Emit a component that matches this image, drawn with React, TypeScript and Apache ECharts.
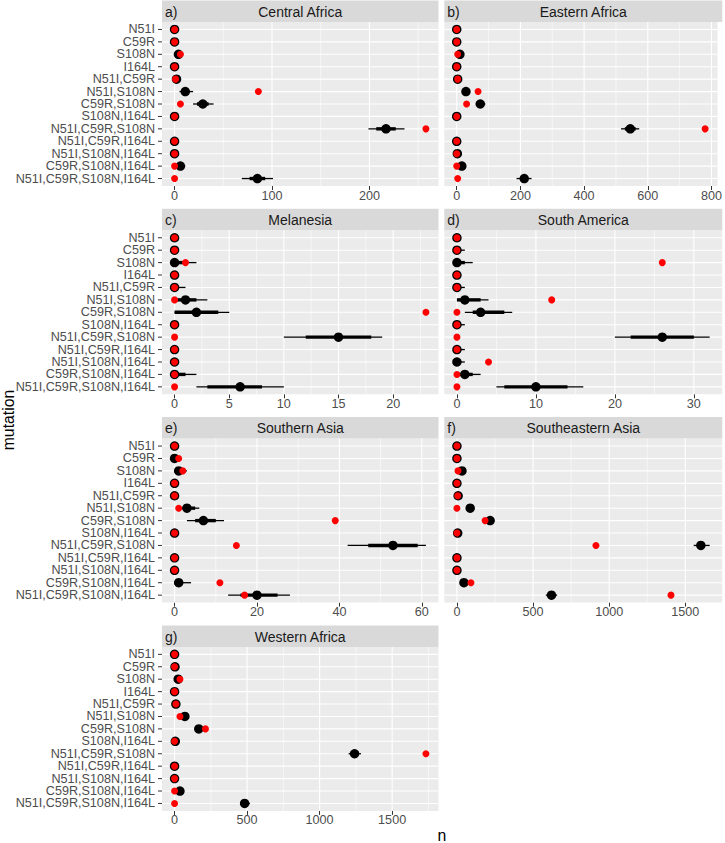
import React, { useEffect, useRef } from "react";
import * as echarts from "echarts";

const categories = [
  "N51I", "C59R", "S108N", "I164L", "N51I,C59R", "N51I,S108N", "C59R,S108N",
  "S108N,I164L", "N51I,C59R,S108N", "N51I,C59R,I164L", "N51I,S108N,I164L",
  "C59R,S108N,I164L", "N51I,C59R,S108N,I164L",
];

const panelTags = ["a)", "b)", "c)", "d)", "e)", "f)", "g)"];
const panelTitles = ["Central Africa", "Eastern Africa", "Melanesia", "South America", "Southern Asia", "Southeastern Asia", "Western Africa"];

// a) Central Africa
const centralAfricaMedian = [0, 0, 4, 0, 2, 11, 29, 0, 217, 0, 0, 6, 85];
const centralAfricaLo95 = [0, 0, 1, 0, 0, 5, 19, 0, 199, 0, 0, 2, 69];
const centralAfricaHi95 = [1, 1, 8, 1, 4, 19, 40, 1, 236, 1, 1, 11, 101];
const centralAfricaLo66 = [0, 0, 2, 0, 1, 8, 23, 0, 207, 0, 0, 4, 77];
const centralAfricaHi66 = [0, 0, 6, 0, 3, 15, 35, 0, 227, 0, 0, 8, 93];
const centralAfricaObserved = [0, 0, 6, 0, 1, 86, 6, 0, 258, 0, 0, 0, 0];
const centralAfricaTicks = [0, 100, 200];
const centralAfricaMinor = [50, 150, 250];

// b) Eastern Africa
const easternAfricaMedian = [0, 0, 10, 0, 3, 29, 74, 0, 545, 0, 2, 16, 212];
const easternAfricaLo95 = [0, 0, 3, 0, 0, 18, 60, 0, 516, 0, 0, 8, 188];
const easternAfricaHi95 = [1, 1, 18, 1, 7, 40, 90, 1, 573, 1, 4, 26, 235];
const easternAfricaLo66 = [0, 0, 6, 0, 1, 24, 67, 0, 528, 0, 1, 12, 200];
const easternAfricaHi66 = [0, 0, 14, 0, 5, 34, 81, 0, 562, 0, 3, 20, 224];
const easternAfricaObserved = [0, 0, 3, 0, 3, 67, 31, 0, 780, 0, 0, 0, 3];
const easternAfricaTicks = [0, 200, 400, 600, 800];
const easternAfricaMinor = [100, 300, 500, 700];

// c) Melanesia
const melanesiaMedian = [0, 0, 0, 0, 0, 1, 2, 0, 15, 0, 0, 0, 6];
const melanesiaLo95 = [0, 0, 0, 0, 0, 0, 0, 0, 10, 0, 0, 0, 2];
const melanesiaHi95 = [0, 0, 2, 0, 1, 3, 5, 0, 19, 0, 0, 2, 10];
const melanesiaLo66 = [0, 0, 0, 0, 0, 0, 0, 0, 12, 0, 0, 0, 3];
const melanesiaHi66 = [0, 0, 1, 0, 0, 2, 4, 0, 18, 0, 0, 1, 8];
const melanesiaObserved = [0, 0, 1, 0, 0, 0, 23, 0, 0, 0, 0, 0, 0];
const melanesiaTicks = [0, 5, 10, 15, 20];
const melanesiaMinor = [2.5, 7.5, 12.5, 17.5, 22.5];

// d) South America
const southAmericaMedian = [0, 0, 0, 0, 0, 1, 3, 0, 26, 0, 0, 1, 10];
const southAmericaLo95 = [0, 0, 0, 0, 0, 0, 1, 0, 20, 0, 0, 0, 5];
const southAmericaHi95 = [0, 1, 2, 0, 1, 4, 7, 1, 32, 1, 1, 3, 16];
const southAmericaLo66 = [0, 0, 0, 0, 0, 0, 2, 0, 22, 0, 0, 0, 6];
const southAmericaHi66 = [0, 0, 1, 0, 0, 3, 6, 0, 30, 0, 0, 2, 14];
const southAmericaObserved = [0, 0, 26, 0, 0, 12, 0, 0, 0, 0, 4, 0, 0];
const southAmericaTicks = [0, 10, 20, 30];
const southAmericaMinor = [5, 15, 25];

// e) Southern Asia
const southernAsiaMedian = [0, 0, 1, 0, 0, 3, 7, 0, 53, 0, 0, 1, 20];
const southernAsiaLo95 = [0, 0, 0, 0, 0, 1, 3, 0, 42, 0, 0, 0, 13];
const southernAsiaHi95 = [0, 1, 3, 0, 0, 6, 12, 0, 61, 0, 0, 4, 28];
const southernAsiaLo66 = [0, 0, 0, 0, 0, 2, 5, 0, 47, 0, 0, 0, 16];
const southernAsiaHi66 = [0, 0, 2, 0, 0, 5, 10, 0, 59, 0, 0, 2, 25];
const southernAsiaObserved = [0, 1, 2, 0, 0, 1, 39, 0, 15, 0, 0, 11, 17];
const southernAsiaTicks = [0, 20, 40, 60];
const southernAsiaMinor = [10, 30, 50];

// f) Southeastern Asia
const southeasternAsiaMedian = [0, 0, 33, 0, 8, 87, 218, 5, 1602, 0, 0, 46, 621];
const southeasternAsiaLo95 = [0, 0, 15, 0, 0, 65, 190, 0, 1555, 0, 0, 28, 584];
const southeasternAsiaHi95 = [3, 3, 50, 3, 18, 110, 245, 12, 1660, 3, 3, 65, 658];
const southeasternAsiaLo66 = [0, 0, 25, 0, 3, 76, 205, 2, 1580, 0, 0, 37, 602];
const southeasternAsiaHi66 = [1, 1, 42, 1, 13, 98, 232, 8, 1628, 1, 1, 56, 640];
const southeasternAsiaObserved = [0, 0, 7, 0, 5, 0, 185, 0, 913, 0, 0, 92, 1406];
const southeasternAsiaTicks = [0, 500, 1000, 1500];
const southeasternAsiaMinor = [250, 750, 1250];

// g) Western Africa
const westernAfricaMedian = [0, 3, 25, 0, 9, 71, 167, 5, 1241, 0, 0, 37, 483];
const westernAfricaLo95 = [0, 0, 10, 0, 0, 50, 140, 0, 1200, 0, 0, 20, 451];
const westernAfricaHi95 = [3, 8, 40, 3, 20, 95, 195, 12, 1285, 3, 3, 55, 520];
const westernAfricaLo66 = [0, 1, 18, 0, 4, 60, 153, 2, 1220, 0, 0, 28, 467];
const westernAfricaHi66 = [1, 5, 32, 1, 14, 83, 180, 8, 1263, 1, 1, 46, 502];
const westernAfricaObserved = [0, 0, 37, 0, 9, 37, 213, 0, 1733, 0, 0, 0, 0];
const westernAfricaTicks = [0, 500, 1000, 1500];
const westernAfricaMinor = [250, 750, 1250, 1750];

const panels = [
  { median: centralAfricaMedian, lo95: centralAfricaLo95, hi95: centralAfricaHi95, lo66: centralAfricaLo66, hi66: centralAfricaHi66, obs: centralAfricaObserved, ticks: centralAfricaTicks, minor: centralAfricaMinor },
  { median: easternAfricaMedian, lo95: easternAfricaLo95, hi95: easternAfricaHi95, lo66: easternAfricaLo66, hi66: easternAfricaHi66, obs: easternAfricaObserved, ticks: easternAfricaTicks, minor: easternAfricaMinor },
  { median: melanesiaMedian, lo95: melanesiaLo95, hi95: melanesiaHi95, lo66: melanesiaLo66, hi66: melanesiaHi66, obs: melanesiaObserved, ticks: melanesiaTicks, minor: melanesiaMinor },
  { median: southAmericaMedian, lo95: southAmericaLo95, hi95: southAmericaHi95, lo66: southAmericaLo66, hi66: southAmericaHi66, obs: southAmericaObserved, ticks: southAmericaTicks, minor: southAmericaMinor },
  { median: southernAsiaMedian, lo95: southernAsiaLo95, hi95: southernAsiaHi95, lo66: southernAsiaLo66, hi66: southernAsiaHi66, obs: southernAsiaObserved, ticks: southernAsiaTicks, minor: southernAsiaMinor },
  { median: southeasternAsiaMedian, lo95: southeasternAsiaLo95, hi95: southeasternAsiaHi95, lo66: southeasternAsiaLo66, hi66: southeasternAsiaHi66, obs: southeasternAsiaObserved, ticks: southeasternAsiaTicks, minor: southeasternAsiaMinor },
  { median: westernAfricaMedian, lo95: westernAfricaLo95, hi95: westernAfricaHi95, lo66: westernAfricaLo66, hi66: westernAfricaHi66, obs: westernAfricaObserved, ticks: westernAfricaTicks, minor: westernAfricaMinor },
];

const FONT = "Liberation Sans, Arial, sans-serif";
const colX = [162, 444.3];
const colW = [276.5, 278];
const stripH = 21.5;
const panelH = 164;
const rowTop = (r: number) => 0.5 + r * 208.3;
const Y_MIN = -0.6;
const Y_MAX = 12.6;

export default function App() {
  const ref = useRef<HTMLDivElement>(null);
  useEffect(() => {
    document.body.style.margin = "0";
    const chart = echarts.init(ref.current!, null, { renderer: "svg" });
    const grid: any[] = [];
    const xAxis: any[] = [];
    const yAxis: any[] = [];
    const series: any[] = [];
    const graphic: any[] = [];
    const idx = categories.map((_, k) => k);

    panels.forEach((p, i) => {
      const col = i % 2;
      const row = Math.floor(i / 2);
      const left = colX[col];
      const width = colW[col];
      const sTop = rowTop(row);
      const top = sTop + stripH;
      grid.push({ left, top, width, height: panelH, show: true, backgroundColor: "#EBEBEB", borderWidth: 0, containLabel: false });
      const dmax = Math.max(...p.hi95, ...p.obs, ...p.median);
      const dmin = Math.min(0, ...p.lo95, ...p.obs);
      const span = dmax - dmin;
      const xmin = dmin - span * 0.05;
      const xmax = dmax + span * 0.05;
      xAxis.push({
        type: "value", gridIndex: i, min: xmin, max: xmax, position: "bottom",
        axisLine: { show: false, onZero: false },
        axisTick: { show: true, length: 4, lineStyle: { color: "#333333", width: 1 }, customValues: p.ticks },
        axisLabel: { show: true, customValues: p.ticks, showMinLabel: true, showMaxLabel: true, formatter: (v: number) => String(v), color: "#4D4D4D", fontSize: 12.6, fontFamily: FONT, margin: 3 },
        splitLine: { show: false },
      });
      yAxis.push({
        type: "value", gridIndex: i, inverse: true, min: Y_MIN, max: Y_MAX, position: "left",
        axisLine: { show: false, onZero: false },
        axisTick: { show: false },
        axisLabel: { show: false },
        splitLine: { show: false },
      });
      // grid lines (minor vertical, major vertical, horizontal per category)
      series.push({
        type: "custom", xAxisIndex: i, yAxisIndex: i, z: 1, silent: true,
        data: p.minor.map((v) => [v, 0]),
        encode: { x: 0, y: 1 },
        renderItem: (_params: any, api: any) => {
          const a = api.coord([api.value(0), Y_MIN]);
          const b = api.coord([api.value(0), Y_MAX]);
          return { type: "line", shape: { x1: a[0], y1: a[1], x2: b[0], y2: b[1] }, style: { stroke: "#FFFFFF", lineWidth: 0.55 } };
        },
      });
      series.push({
        type: "custom", xAxisIndex: i, yAxisIndex: i, z: 1, silent: true,
        data: p.ticks.map((v) => [v, 0]),
        encode: { x: 0, y: 1 },
        renderItem: (_params: any, api: any) => {
          const a = api.coord([api.value(0), Y_MIN]);
          const b = api.coord([api.value(0), Y_MAX]);
          return { type: "line", shape: { x1: a[0], y1: a[1], x2: b[0], y2: b[1] }, style: { stroke: "#FFFFFF", lineWidth: 1.1 } };
        },
      });
      series.push({
        type: "custom", xAxisIndex: i, yAxisIndex: i, z: 1, silent: true,
        data: idx.map((k) => [0, k]),
        encode: { x: 0, y: 1 },
        renderItem: (_params: any, api: any) => {
          const a = api.coord([xmin, api.value(1)]);
          const b = api.coord([xmax, api.value(1)]);
          return { type: "line", shape: { x1: a[0], y1: a[1], x2: b[0], y2: b[1] }, style: { stroke: "#FFFFFF", lineWidth: 1.1 } };
        },
      });
      // category labels and ticks on the left column
      if (col === 0) {
        series.push({
          type: "custom", xAxisIndex: i, yAxisIndex: i, z: 5, silent: true, clip: false,
          data: idx.map((k) => [xmin, k]),
          encode: { x: 0, y: 1 },
          renderItem: (params: any, api: any) => {
            const c = api.coord([xmin, api.value(1)]);
            return {
              type: "group",
              children: [
                { type: "line", shape: { x1: c[0] - 4, y1: c[1], x2: c[0], y2: c[1] }, style: { stroke: "#333333", lineWidth: 1 } },
                { type: "text", x: c[0] - 7, y: c[1], style: { text: categories[params.dataIndex], fill: "#4D4D4D", fontSize: 12.6, fontFamily: FONT, align: "right", verticalAlign: "middle" } },
              ],
            };
          },
        });
      }
      // intervals
      series.push({
        type: "custom", xAxisIndex: i, yAxisIndex: i, z: 2, silent: true,
        data: idx.map((k) => [k, p.median[k], p.lo95[k], p.hi95[k], p.lo66[k], p.hi66[k]]),
        encode: { x: [1, 2, 3], y: 0 },
        renderItem: (_params: any, api: any) => {
          const y = api.value(0);
          const a = api.coord([api.value(2), y]);
          const b = api.coord([api.value(3), y]);
          const c = api.coord([api.value(4), y]);
          const d = api.coord([api.value(5), y]);
          return {
            type: "group",
            children: [
              { type: "line", shape: { x1: a[0], y1: a[1], x2: b[0], y2: b[1] }, style: { stroke: "#000000", lineWidth: 1.3 } },
              { type: "line", shape: { x1: c[0], y1: c[1], x2: d[0], y2: d[1] }, style: { stroke: "#000000", lineWidth: 3.4 } },
            ],
          };
        },
      });
      series.push({
        type: "scatter", xAxisIndex: i, yAxisIndex: i, z: 3, silent: true,
        symbolSize: 9.5, itemStyle: { color: "#000000", opacity: 1 },
        data: idx.map((k) => [p.median[k], k]),
      });
      series.push({
        type: "scatter", xAxisIndex: i, yAxisIndex: i, z: 4, silent: true,
        symbolSize: 7, itemStyle: { color: "#FF0000", opacity: 1 },
        data: idx.map((k) => [p.obs[k], k]),
      });
      graphic.push({ type: "rect", silent: true, shape: { x: left, y: sTop, width, height: stripH }, style: { fill: "#D9D9D9" } });
      graphic.push({ type: "text", silent: true, x: left + 3, y: sTop + stripH / 2 + 0.5, style: { text: panelTags[i], fontSize: 14, fontFamily: FONT, fill: "#1A1A1A", align: "left", verticalAlign: "middle" } });
      graphic.push({ type: "text", silent: true, x: left + width / 2, y: sTop + stripH / 2 + 0.5, style: { text: panelTitles[i], fontSize: 14, fontFamily: FONT, fill: "#1A1A1A", align: "center", verticalAlign: "middle" } });
    });

    graphic.push({ type: "text", silent: true, x: 8, y: 420, rotation: Math.PI / 2, style: { text: "mutation", fontSize: 15.8, fontFamily: FONT, fill: "#000000", align: "center", verticalAlign: "middle" } });
    graphic.push({ type: "text", silent: true, x: 442, y: 835, style: { text: "n", fontSize: 15.8, fontFamily: FONT, fill: "#000000", align: "center", verticalAlign: "middle" } });

    chart.setOption({
      animation: false,
      backgroundColor: "#FFFFFF",
      grid, xAxis, yAxis, series, graphic,
    });
    return () => chart.dispose();
  }, []);
  return <div ref={ref} style={{ width: 725, height: 843 }} />;
}
